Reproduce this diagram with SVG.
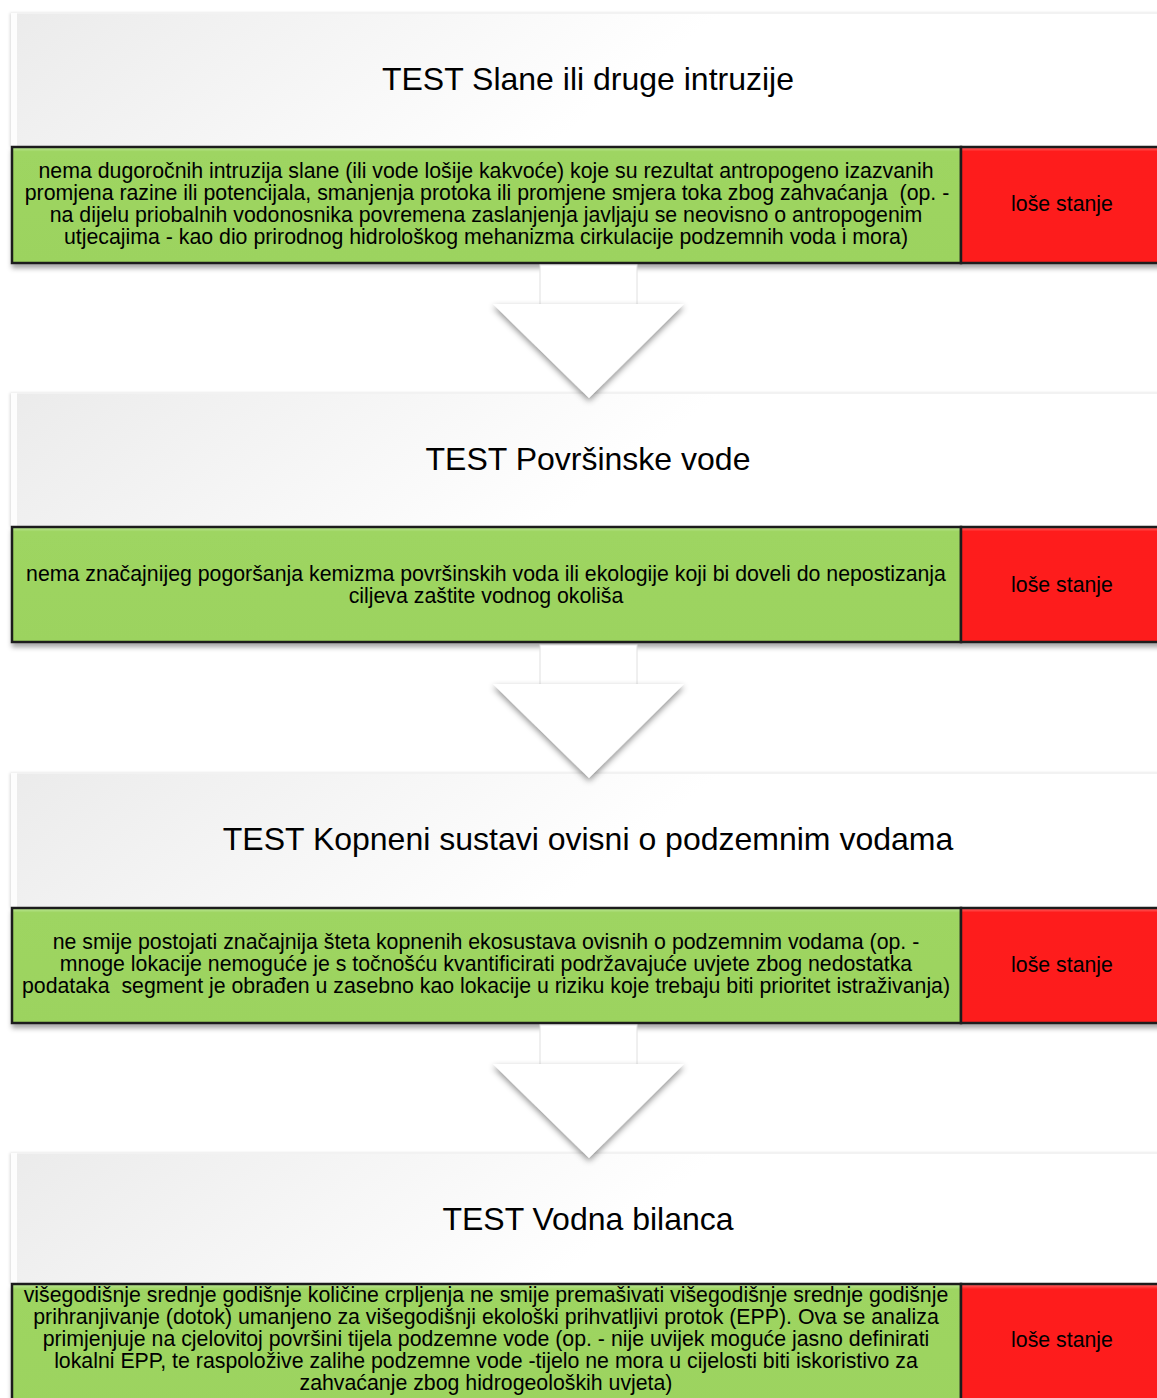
<svg xmlns="http://www.w3.org/2000/svg" width="1157" height="1398" viewBox="0 0 1157 1398">
<defs>
<linearGradient id="panelGrad" x1="0" y1="0" x2="1" y2="0.15">
<stop offset="0" stop-color="#ebebeb"/>
<stop offset="0.45" stop-color="#fafafa"/>
<stop offset="0.6" stop-color="#ffffff"/>
<stop offset="1" stop-color="#ffffff"/>
</linearGradient>
<linearGradient id="greenGrad" x1="0" y1="0" x2="0" y2="1">
<stop offset="0" stop-color="#bfe99a"/>
<stop offset="0.04" stop-color="#9ed562"/>
<stop offset="1" stop-color="#9cd35f"/>
</linearGradient>
<linearGradient id="redGrad" x1="0" y1="0" x2="0" y2="1">
<stop offset="0" stop-color="#ff6a6a"/>
<stop offset="0.04" stop-color="#fe1b1b"/>
<stop offset="1" stop-color="#fd1a1a"/>
</linearGradient>
<filter id="boxShadow" x="-5%" y="-20%" width="110%" height="150%">
<feDropShadow dx="1" dy="4" stdDeviation="2.5" flood-color="#000" flood-opacity="0.35"/>
</filter>
<filter id="panelShadow" x="-5%" y="-20%" width="110%" height="150%">
<feDropShadow dx="-1" dy="0" stdDeviation="1.5" flood-color="#000" flood-opacity="0.15"/>
</filter>
<filter id="arrowShadow" x="-30%" y="-30%" width="160%" height="170%">
<feDropShadow dx="0" dy="3" stdDeviation="3" flood-color="#000" flood-opacity="0.45"/>
</filter>
<style>
.panel{fill:url(#panelGrad);filter:url(#panelShadow)}
.bevel{fill:#fdfdfd}
.topline{fill:#f2f2f2}
.green{fill:url(#greenGrad);stroke:#1c1c1c;stroke-width:2.5}
.red{fill:url(#redGrad);stroke:#1c1c1c;stroke-width:2.5}
.title{font-family:"Liberation Sans",Arial,sans-serif;font-size:32px;fill:#000;text-anchor:middle}
.body{font-family:"Liberation Sans",Arial,sans-serif;font-size:21.3px;fill:#000;text-anchor:middle;white-space:pre}
.bad{font-family:"Liberation Sans",Arial,sans-serif;font-size:21.3px;fill:#000;text-anchor:middle}
.stem{fill:#ffffff;stroke:#e0e0e0;stroke-width:1}
.head{fill:#ffffff;filter:url(#arrowShadow)}
</style>
</defs>
<rect width="1157" height="1398" fill="#ffffff"/>

<g id="test1">
<rect class="panel" x="11" y="13" width="1160" height="134"/>
<rect class="topline" x="11" y="12" width="1146" height="2"/>
<rect class="bevel" x="11" y="13" width="6" height="134"/>
<text class="title" x="588" y="90">TEST Slane ili druge intruzije</text>
<g filter="url(#boxShadow)">
<rect class="green" x="12" y="147" width="949" height="116"/>
<rect class="red" x="961" y="147" width="210" height="116"/>
</g>
<text class="body" x="486" y="178">nema dugoročnih intruzija slane (ili vode lošije kakvoće) koje su rezultat antropogeno izazvanih</text>
<text class="body" x="487" y="200">promjena razine ili potencijala, smanjenja protoka ili promjene smjera toka zbog zahvaćanja  (op. -</text>
<text class="body" x="486" y="222">na dijelu priobalnih vodonosnika povremena zaslanjenja javljaju se neovisno o antropogenim</text>
<text class="body" x="486" y="244">utjecajima - kao dio prirodnog hidrološkog mehanizma cirkulacije podzemnih voda i mora)</text>
<text class="bad" x="1062" y="211">loše stanje</text>
</g>

<g id="test2">
<rect class="panel" x="11" y="393" width="1160" height="134"/>
<rect class="topline" x="11" y="392" width="1146" height="2"/>
<rect class="bevel" x="11" y="393" width="6" height="134"/>
<text class="title" x="588" y="470">TEST Površinske vode</text>
<g filter="url(#boxShadow)">
<rect class="green" x="12" y="527" width="949" height="115"/>
<rect class="red" x="961" y="527" width="210" height="115"/>
</g>
<text class="body" x="486" y="581">nema značajnijeg pogoršanja kemizma površinskih voda ili ekologije koji bi doveli do nepostizanja</text>
<text class="body" x="486" y="603">ciljeva zaštite vodnog okoliša</text>
<text class="bad" x="1062" y="592">loše stanje</text>
</g>

<g id="test3">
<rect class="panel" x="11" y="773" width="1160" height="135"/>
<rect class="topline" x="11" y="772" width="1146" height="2"/>
<rect class="bevel" x="11" y="773" width="6" height="135"/>
<text class="title" x="588" y="850">TEST Kopneni sustavi ovisni o podzemnim vodama</text>
<g filter="url(#boxShadow)">
<rect class="green" x="12" y="908" width="949" height="115"/>
<rect class="red" x="961" y="908" width="210" height="115"/>
</g>
<text class="body" x="486" y="949">ne smije postojati značajnija šteta kopnenih ekosustava ovisnih o podzemnim vodama (op. -</text>
<text class="body" x="486" y="971">mnoge lokacije nemoguće je s točnošću kvantificirati podržavajuće uvjete zbog nedostatka</text>
<text class="body" x="486" y="993">podataka  segment je obrađen u zasebno kao lokacije u riziku koje trebaju biti prioritet istraživanja)</text>
<text class="bad" x="1062" y="972">loše stanje</text>
</g>

<g id="test4">
<rect class="panel" x="11" y="1153" width="1160" height="131"/>
<rect class="topline" x="11" y="1152" width="1146" height="2"/>
<rect class="bevel" x="11" y="1153" width="6" height="131"/>
<text class="title" x="588" y="1230">TEST Vodna bilanca</text>
<g filter="url(#boxShadow)">
<rect class="green" x="12" y="1284" width="949" height="130"/>
<rect class="red" x="961" y="1284" width="210" height="130"/>
</g>
<text class="body" x="486" y="1302">višegodišnje srednje godišnje količine crpljenja ne smije premašivati višegodišnje srednje godišnje</text>
<text class="body" x="486" y="1324">prihranjivanje (dotok) umanjeno za višegodišnji ekološki prihvatljivi protok (EPP). Ova se analiza</text>
<text class="body" x="486" y="1346">primjenjuje na cjelovitoj površini tijela podzemne vode (op. - nije uvijek moguće jasno definirati</text>
<text class="body" x="486" y="1368">lokalni EPP, te raspoložive zalihe podzemne vode -tijelo ne mora u cijelosti biti iskoristivo za</text>
<text class="body" x="486" y="1390">zahvaćanje zbog hidrogeoloških uvjeta)</text>
<text class="bad" x="1062" y="1347">loše stanje</text>
</g>

<g id="connectors">
<g id="arrow1">
<rect class="stem" x="540" y="265" width="97" height="41"/>
<polygon class="head" points="493,304 684,304 589,398"/>
</g>
<g id="arrow2">
<rect class="stem" x="540" y="645" width="97" height="41"/>
<polygon class="head" points="493,684 684,684 589,778"/>
</g>
<g id="arrow3">
<rect class="stem" x="540" y="1025" width="97" height="41"/>
<polygon class="head" points="493,1064 684,1064 589,1158"/>
</g>
</g>
</svg>
